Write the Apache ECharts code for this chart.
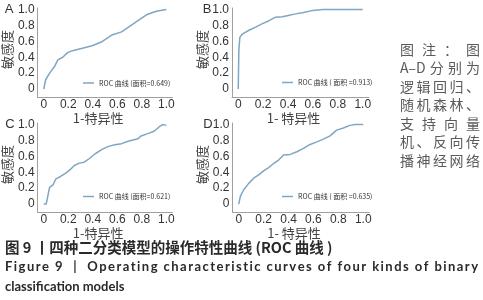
<!DOCTYPE html>
<html><head><meta charset="utf-8">
<script src="https://cdn.jsdelivr.net/npm/echarts@6/dist/echarts.min.js"></script>
<style>html,body{margin:0;padding:0;background:#fff}#c{width:483px;height:300px}</style>
</head><body><div id="c"></div>
<script>
// ---- data ----
const fprA = [0, 0.016, 0.048, 0.088, 0.115, 0.128, 0.155, 0.195, 0.235, 0.315, 0.395, 0.475, 0.555, 0.635, 0.715, 0.795, 0.848, 0.9, 0.928, 1];
const tprA = [0, 0.117, 0.2, 0.283, 0.367, 0.39, 0.40, 0.458, 0.483, 0.513, 0.545, 0.596, 0.68, 0.72, 0.804, 0.888, 0.942, 0.97, 0.983, 1];
const fprB = [0, 0.003, 0.005, 0.013, 0.032, 0.086, 0.14, 0.19, 0.247, 0.30, 0.355, 0.41, 0.46, 0.516, 0.6, 0.68, 1];
const tprB = [0, 0.3, 0.486, 0.65, 0.69, 0.74, 0.78, 0.82, 0.86, 0.905, 0.91, 0.93, 0.946, 0.96, 0.99, 1.0, 1.0];
const fprC = [0, 0.02, 0.048, 0.075, 0.1, 0.14, 0.18, 0.22, 0.25, 0.29, 0.33, 0.37, 0.42, 0.475, 0.528, 0.58, 0.635, 0.688, 0.768, 0.795, 0.848, 0.9, 0.94, 0.97, 1];
const tprC = [0, 0, 0.21, 0.24, 0.316, 0.35, 0.39, 0.44, 0.485, 0.515, 0.527, 0.57, 0.633, 0.688, 0.726, 0.747, 0.76, 0.79, 0.823, 0.857, 0.886, 0.916, 0.97, 1.0, 0.99];
const fprD = [0, 0.013, 0.04, 0.08, 0.12, 0.16, 0.2, 0.24, 0.28, 0.32, 0.36, 0.413, 0.467, 0.52, 0.573, 0.627, 0.68, 0.733, 0.787, 0.84, 0.893, 0.933, 1];
const tprD = [0, 0.096, 0.18, 0.26, 0.325, 0.367, 0.417, 0.458, 0.51, 0.554, 0.617, 0.625, 0.658, 0.7, 0.75, 0.783, 0.817, 0.858, 0.93, 0.958, 0.99, 1.0, 1.0];
const seriesNames = ['ROC 曲线 (面积=0.649)', 'ROC 曲线 ( 面积 =0.913)', 'ROC 曲线 (面积=0.621)', 'ROC 曲线 ( 面积 =0.635)'];
const panelLetters = ['A', 'B', 'C', 'D'];
const tickValues = [0, 0.2, 0.4, 0.6, 0.8, 1.0];
const xName = ['1-特异性', '1- 特异性', '1-特异性', '1- 特异性'];
const yName = '敏感度';
const noteLines = [['图','注','：','图'], ['A–D','分','别','为'], ['逻','辑','回','归','、'], ['随','机','森','林','、'], ['支','持','向','量'], ['机','、','反','向','传'], ['播','神','经','网','络']];
const captionCN = '图 9 丨四种二分类模型的操作特性曲线 (ROC 曲线 )';
const captionEN1 = 'Figure 9  |  Operating characteristic curves of four kinds of binary';
const captionEN2 = 'classification models';

const fprs = [fprA, fprB, fprC, fprD];
const tprs = [tprA, tprB, tprC, tprD];

// ---- layout ----
const grids = [
  {left: 35, top: 8, width: 137.5, height: 89},
  {left: 232, top: 8, width: 137, height: 89},
  {left: 35, top: 123, width: 137.5, height: 89},
  {left: 232.5, top: 123, width: 137, height: 89}
];
const legendPos = [{left: 83, top: 79.5}, {left: 282, top: 79}, {left: 83, top: 193}, {left: 282, top: 193}];
const letterPos = [[9, 9.5], [207, 9], [10, 124], [208, 124]];
const lineColor = '#7fa6c3';

const fmt = v => v === 0 ? '0' : v.toFixed(1);

const xAxis = [], yAxis = [], series = [], legend = [];
grids.forEach((g, i) => {
  xAxis.push({
    type: 'value', gridIndex: i, min: -0.05, max: 1.05,
    axisLine: {show: true, onZero: false, lineStyle: {color: '#a0a0a0', width: 1}},
    axisTick: {show: false}, splitLine: {show: false},
    axisLabel: {customValues: tickValues, formatter: fmt, fontSize: 12, color: '#333', margin: 2, fontFamily: 'Liberation Sans'},
    name: xName[i], nameLocation: 'middle', nameGap: 10,
    nameTextStyle: {fontSize: 13, color: '#444', fontFamily: 'Noto Sans CJK SC', padding: [0, 14, 0, 0]}
  });
  yAxis.push({
    type: 'value', gridIndex: i, min: -0.1, max: 1.02,
    axisLine: {show: true, onZero: false, lineStyle: {color: '#a0a0a0', width: 1}},
    axisTick: {show: false}, splitLine: {show: false},
    axisLabel: {customValues: tickValues, formatter: fmt, fontSize: 12, color: '#333', margin: 3, fontFamily: 'Liberation Sans'},
    name: yName, nameLocation: 'middle', nameGap: 22, nameRotate: 90,
    nameTextStyle: {fontSize: 13, color: '#444', fontFamily: 'Noto Sans CJK SC', padding: [0, 0, 0, 6]}
  });
  series.push({
    type: 'line', name: seriesNames[i], xAxisIndex: i, yAxisIndex: i,
    data: fprs[i].map((x, k) => [x, tprs[i][k]]),
    symbol: 'none', smooth: false,
    lineStyle: {color: lineColor, width: 1.5}, itemStyle: {color: lineColor}
  });
  legend.push({
    data: [{name: seriesNames[i], icon: 'rect'}], left: legendPos[i].left, top: legendPos[i].top, padding: 0,
    itemWidth: 11, itemHeight: 1.5, itemGap: 2,
    textStyle: {fontSize: 7, color: '#333', padding: [0, 0, 0, 0], fontFamily: 'Noto Sans CJK SC'}
  });
});

// ---- graphics (text) ----
const cv = document.createElement('canvas').getContext('2d');
function measure(t, font) { cv.font = font; return cv.measureText(t).width; }
const graphic = [];
letterPos.forEach((p, i) => graphic.push({type: 'text', x: p[0], y: p[1], style: {text: panelLetters[i], font: '13px "Liberation Sans"', fill: '#333', textAlign: 'center', textVerticalAlign: 'middle'}}));
function justify(tokens, x0, x1, yc, font, fill) {
  const ws = tokens.map(t => measure(t, font));
  const total = ws.reduce((a, b) => a + b, 0);
  const gap = tokens.length > 1 ? (x1 - x0 - total) / (tokens.length - 1) : 0;
  let x = x0;
  tokens.forEach((t, k) => {
    if (t.trim()) graphic.push({type: 'text', x: x, y: yc, style: {text: t, font: font, fill: fill, textVerticalAlign: 'middle'}});
    x += ws[k] + gap;
  });
}
const noteFont = '14px "Noto Sans CJK SC"';
noteLines.forEach((ln, i) => justify(ln, 400, 480, 49.7 + i * 18.45, noteFont, '#5a5a5a'));
graphic.push({type: 'text', x: 5, y: 247.5, style: {text: captionCN, font: 'bold 14.5px "Noto Sans CJK SC"', fill: '#2a2a2a', textVerticalAlign: 'middle'}});
// letter-spaced justification of the English first line
justify(captionEN1.split(''), 5, 478, 267.3, 'bold 13px Lato', '#2a2a2a');
graphic.push({type: 'text', x: 5, y: 287.3, style: {text: captionEN2, font: 'bold 13px Lato', fill: '#2a2a2a', textVerticalAlign: 'middle'}});

const chart = echarts.init(document.getElementById('c'), null, {renderer: 'canvas'});
chart.setOption({
  animation: false,
  backgroundColor: '#fff',
  grid: grids,
  xAxis, yAxis, series, legend, graphic
});
</script></body></html>
